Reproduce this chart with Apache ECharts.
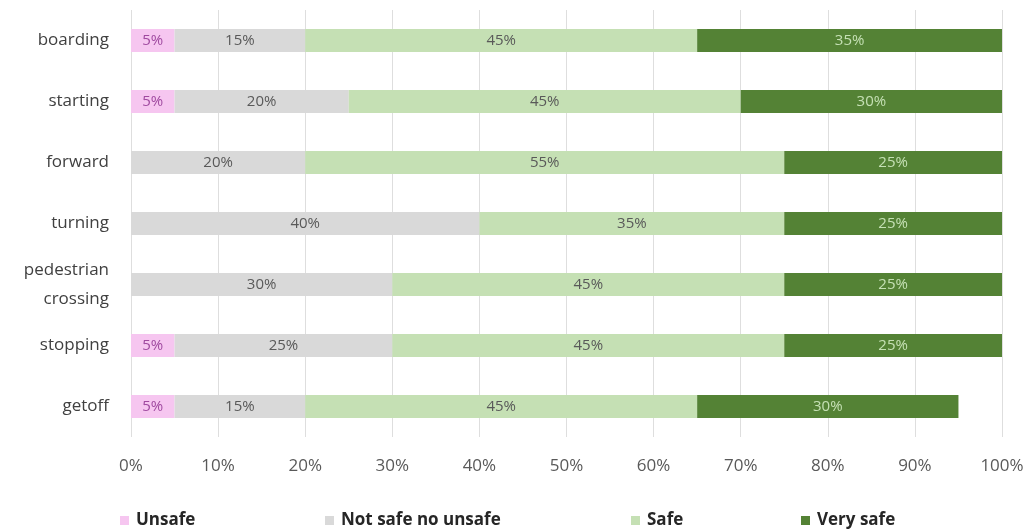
<!DOCTYPE html>
<html>
<head>
<meta charset="utf-8">
<style>
  html, body { margin: 0; padding: 0; background: #ffffff; }
  #chart { width: 1032px; height: 531px; }
</style>
<script src="https://cdn.jsdelivr.net/npm/echarts@6/dist/echarts.min.js"></script>
</head>
<body>
<div id="chart"></div>
<script>
// Perceived safety per driving phase (share of respondents, %)
const categories = ['boarding', 'starting', 'forward', 'turning', 'pedestrian\ncrossing', 'stopping', 'getoff'];
const unsafe      = [5, 5, 0, 0, 0, 5, 5];
const neutral     = [15, 20, 20, 40, 30, 25, 15];
const safe        = [45, 45, 55, 35, 45, 45, 45];
const verySafe    = [35, 30, 25, 25, 25, 25, 30];
const seriesNames = ['Unsafe', 'Not safe no unsafe', 'Safe', 'Very safe'];
const tickValues  = [0, 10, 20, 30, 40, 50, 60, 70, 80, 90, 100];

const FONT = '"Open Sans", "Noto Sans", sans-serif';
const colors = ['#f6c6f0', '#d9d9d9', '#c5e0b4', '#548235'];
const labelColors = ['#a04aa0', '#595959', '#595959', '#c5e0b4'];
const values = [unsafe, neutral, safe, verySafe];

const series = seriesNames.map((name, i) => ({
  name: name,
  type: 'bar',
  stack: 'total',
  barWidth: 23,
  data: values[i],
  itemStyle: { color: colors[i] },
  label: {
    show: true,
    position: 'inside',
    color: labelColors[i],
    fontFamily: FONT,
    fontSize: 15,
    formatter: p => (p.value > 0 ? p.value + '%' : '')
  },
  emphasis: { disabled: true }
}));

// one legend block per series so each entry sits in its own column
const legendLefts = [115, 320, 626, 796];
const legends = seriesNames.map((name, i) => ({
  data: [name],
  left: legendLefts[i],
  top: 507,
  icon: 'rect',
  itemWidth: 9,
  itemHeight: 9,
  itemGap: 0,
  textStyle: { fontFamily: FONT, fontSize: 17, fontWeight: 'bold', color: '#262626', padding: [0, 0, 0, 2] },
  selectedMode: false
}));

const chart = echarts.init(document.getElementById('chart'), null, { renderer: 'canvas' });
chart.setOption({
  animation: false,
  backgroundColor: '#ffffff',
  grid: { left: 131, right: 30, top: 10, bottom: 94, containLabel: false },
  legend: legends,
  xAxis: {
    type: 'value',
    min: tickValues[0],
    max: tickValues[tickValues.length - 1],
    interval: tickValues[1] - tickValues[0],
    axisLine: { show: false },
    axisTick: { show: false },
    splitLine: { show: true, lineStyle: { color: '#dedede', width: 1 } },
    axisLabel: {
      margin: 21,
      color: '#595959',
      fontFamily: FONT,
      fontSize: 17,
      formatter: '{value}%'
    }
  },
  yAxis: {
    type: 'category',
    data: categories,
    inverse: true,
    axisLine: { show: false },
    axisTick: { show: false },
    splitLine: { show: false },
    axisLabel: {
      margin: 22,
      color: '#404040',
      fontFamily: FONT,
      fontSize: 17,
      lineHeight: 29,
      align: 'right'
    }
  },
  series: series
});
</script>
</body>
</html>
